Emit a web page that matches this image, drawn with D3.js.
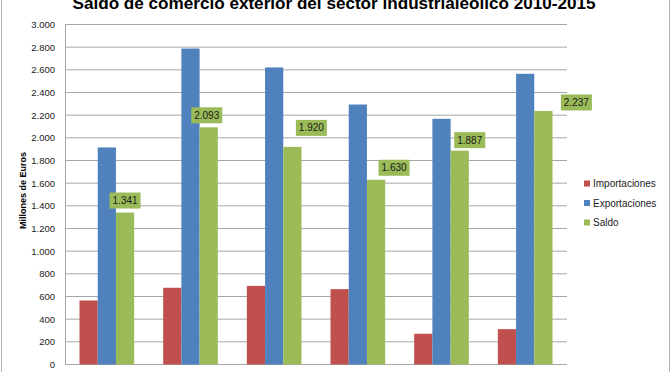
<!DOCTYPE html>
<html>
<head>
<meta charset="utf-8">
<script src="https://cdn.jsdelivr.net/npm/d3@7"></script>
<style>
  body { margin: 0; background: #fff; }
  svg { display: block; font-family: "Liberation Sans", Arial, sans-serif; }
</style>
</head>
<body>
<svg id="chart" width="672" height="372"></svg>
<script>
// Data
var years = ["2010", "2011", "2012", "2013", "2014", "2015"];
var series = ["Importaciones", "Exportaciones", "Saldo"];
var importaciones = [565, 677, 694, 665, 271, 312];
var exportaciones = [1915, 2788, 2621, 2294, 2168, 2565];
var saldo = [1341, 2093, 1920, 1630, 1887, 2237];
var yTicks = [0, 200, 400, 600, 800, 1000, 1200, 1400, 1600, 1800, 2000, 2200, 2400, 2600, 2800, 3000];

// manual nudges of the Saldo labels (as placed in the original)
var labelShift = [[0, 0], [-2, 0], [19, -7], [18, 0], [10, 1.5], [33, 3.5]];

var colors = ["#C0504D", "#4F81BD", "#9BBB59"];
var values = [importaciones, exportaciones, saldo];

var svg = d3.select("#chart");
// note: "top" is reserved on window, so plotTop etc.
var plotLeft = 65, plotRight = 567, plotTop = 24.5, plotBottom = 364.5;

// frame
svg.append("rect")
  .attr("x", 1.5).attr("y", -10)
  .attr("width", 668).attr("height", 400)
  .attr("fill", "none").attr("stroke", "#b4b4b4");

// title (top clipped in the original)
svg.append("text")
  .attr("x", 334).attr("y", 9)
  .attr("text-anchor", "middle")
  .attr("font-weight", "bold")
  .attr("font-size", 17)
  .attr("textLength", 523).attr("lengthAdjust", "spacingAndGlyphs")
  .attr("fill", "#000")
  .text("Saldo de comercio exterior del sector industrialeólico 2010-2015");

var y = d3.scaleLinear().domain([0, 3000]).range([plotBottom, plotTop]);
var x0 = d3.scaleBand().domain(years).range([plotLeft, plotRight]);
var bw = x0.bandwidth();
var x1 = d3.scaleBand().domain(series).range([14.5, bw - 14.5]);

// gridlines
svg.append("g").selectAll("line")
  .data(yTicks.filter(function(d) { return d > 0; }))
  .join("line")
  .attr("x1", plotLeft).attr("x2", plotRight)
  .attr("y1", function(d) { return y(d); })
  .attr("y2", function(d) { return y(d); })
  .attr("stroke", "#a6a6a6").attr("stroke-width", 1);

// y axis
var yAxis = d3.axisLeft(y)
  .tickValues(yTicks)
  .tickSize(0)
  .tickPadding(10)
  .tickFormat(function(d) { return d3.format(",")(d).replace(/,/g, "."); });

var gy = svg.append("g")
  .attr("transform", "translate(" + plotLeft + ",0)")
  .call(yAxis);
gy.select(".domain").attr("stroke", "#a6a6a6");
gy.selectAll("text")
  .attr("font-size", 9.5)
  .attr("font-family", "Liberation Sans, Arial, sans-serif")
  .attr("fill", "#222");

// x axis line
svg.append("line")
  .attr("x1", plotLeft).attr("x2", plotRight)
  .attr("y1", plotBottom).attr("y2", plotBottom)
  .attr("stroke", "#a6a6a6");

svg.append("text")
  .attr("transform", "translate(26," + ((plotTop + plotBottom) / 2 - 4) + ") rotate(-90)")
  .attr("text-anchor", "middle")
  .attr("font-weight", "bold")
  .attr("font-size", 9)
  .attr("fill", "#000")
  .text("Millones de Euros");

// bars
series.forEach(function(s, si) {
  svg.append("g")
    .selectAll("rect")
    .data(values[si])
    .join("rect")
    .attr("x", function(d, i) { return x0(years[i]) + x1(s); })
    .attr("y", function(d) { return y(d); })
    .attr("width", x1.bandwidth())
    .attr("height", function(d) { return plotBottom - y(d); })
    .attr("fill", colors[si]);
});

// Saldo data labels
var boxW = 31, boxH = 16;
var lab = svg.append("g").selectAll("g")
  .data(saldo)
  .join("g")
  .attr("transform", function(d, i) {
    var cx = x0(years[i]) + x1("Saldo") + x1.bandwidth() / 2 + labelShift[i][0];
    var by = y(d) - 4 + labelShift[i][1];
    return "translate(" + (cx - boxW / 2) + "," + (by - boxH) + ")";
  });
lab.append("rect")
  .attr("width", boxW).attr("height", boxH)
  .attr("fill", "#9BBB59");
lab.append("text")
  .attr("x", boxW / 2).attr("y", 11.5)
  .attr("text-anchor", "middle")
  .attr("font-size", 10)
  .attr("fill", "#1a1a1a")
  .text(function(d) { return d3.format(",")(d).replace(/,/g, "."); });

// legend
var leg = svg.append("g").selectAll("g")
  .data(series)
  .join("g")
  .attr("transform", function(d, i) { return "translate(584," + (183.5 + i * 19.5) + ")"; });
leg.append("rect")
  .attr("x", 0).attr("y", -3)
  .attr("width", 6).attr("height", 6)
  .attr("fill", function(d, i) { return colors[i]; });
leg.append("text")
  .attr("x", 9).attr("y", 3.5)
  .attr("font-size", 10)
  .attr("fill", "#222")
  .text(function(d) { return d; });
</script>
</body>
</html>
